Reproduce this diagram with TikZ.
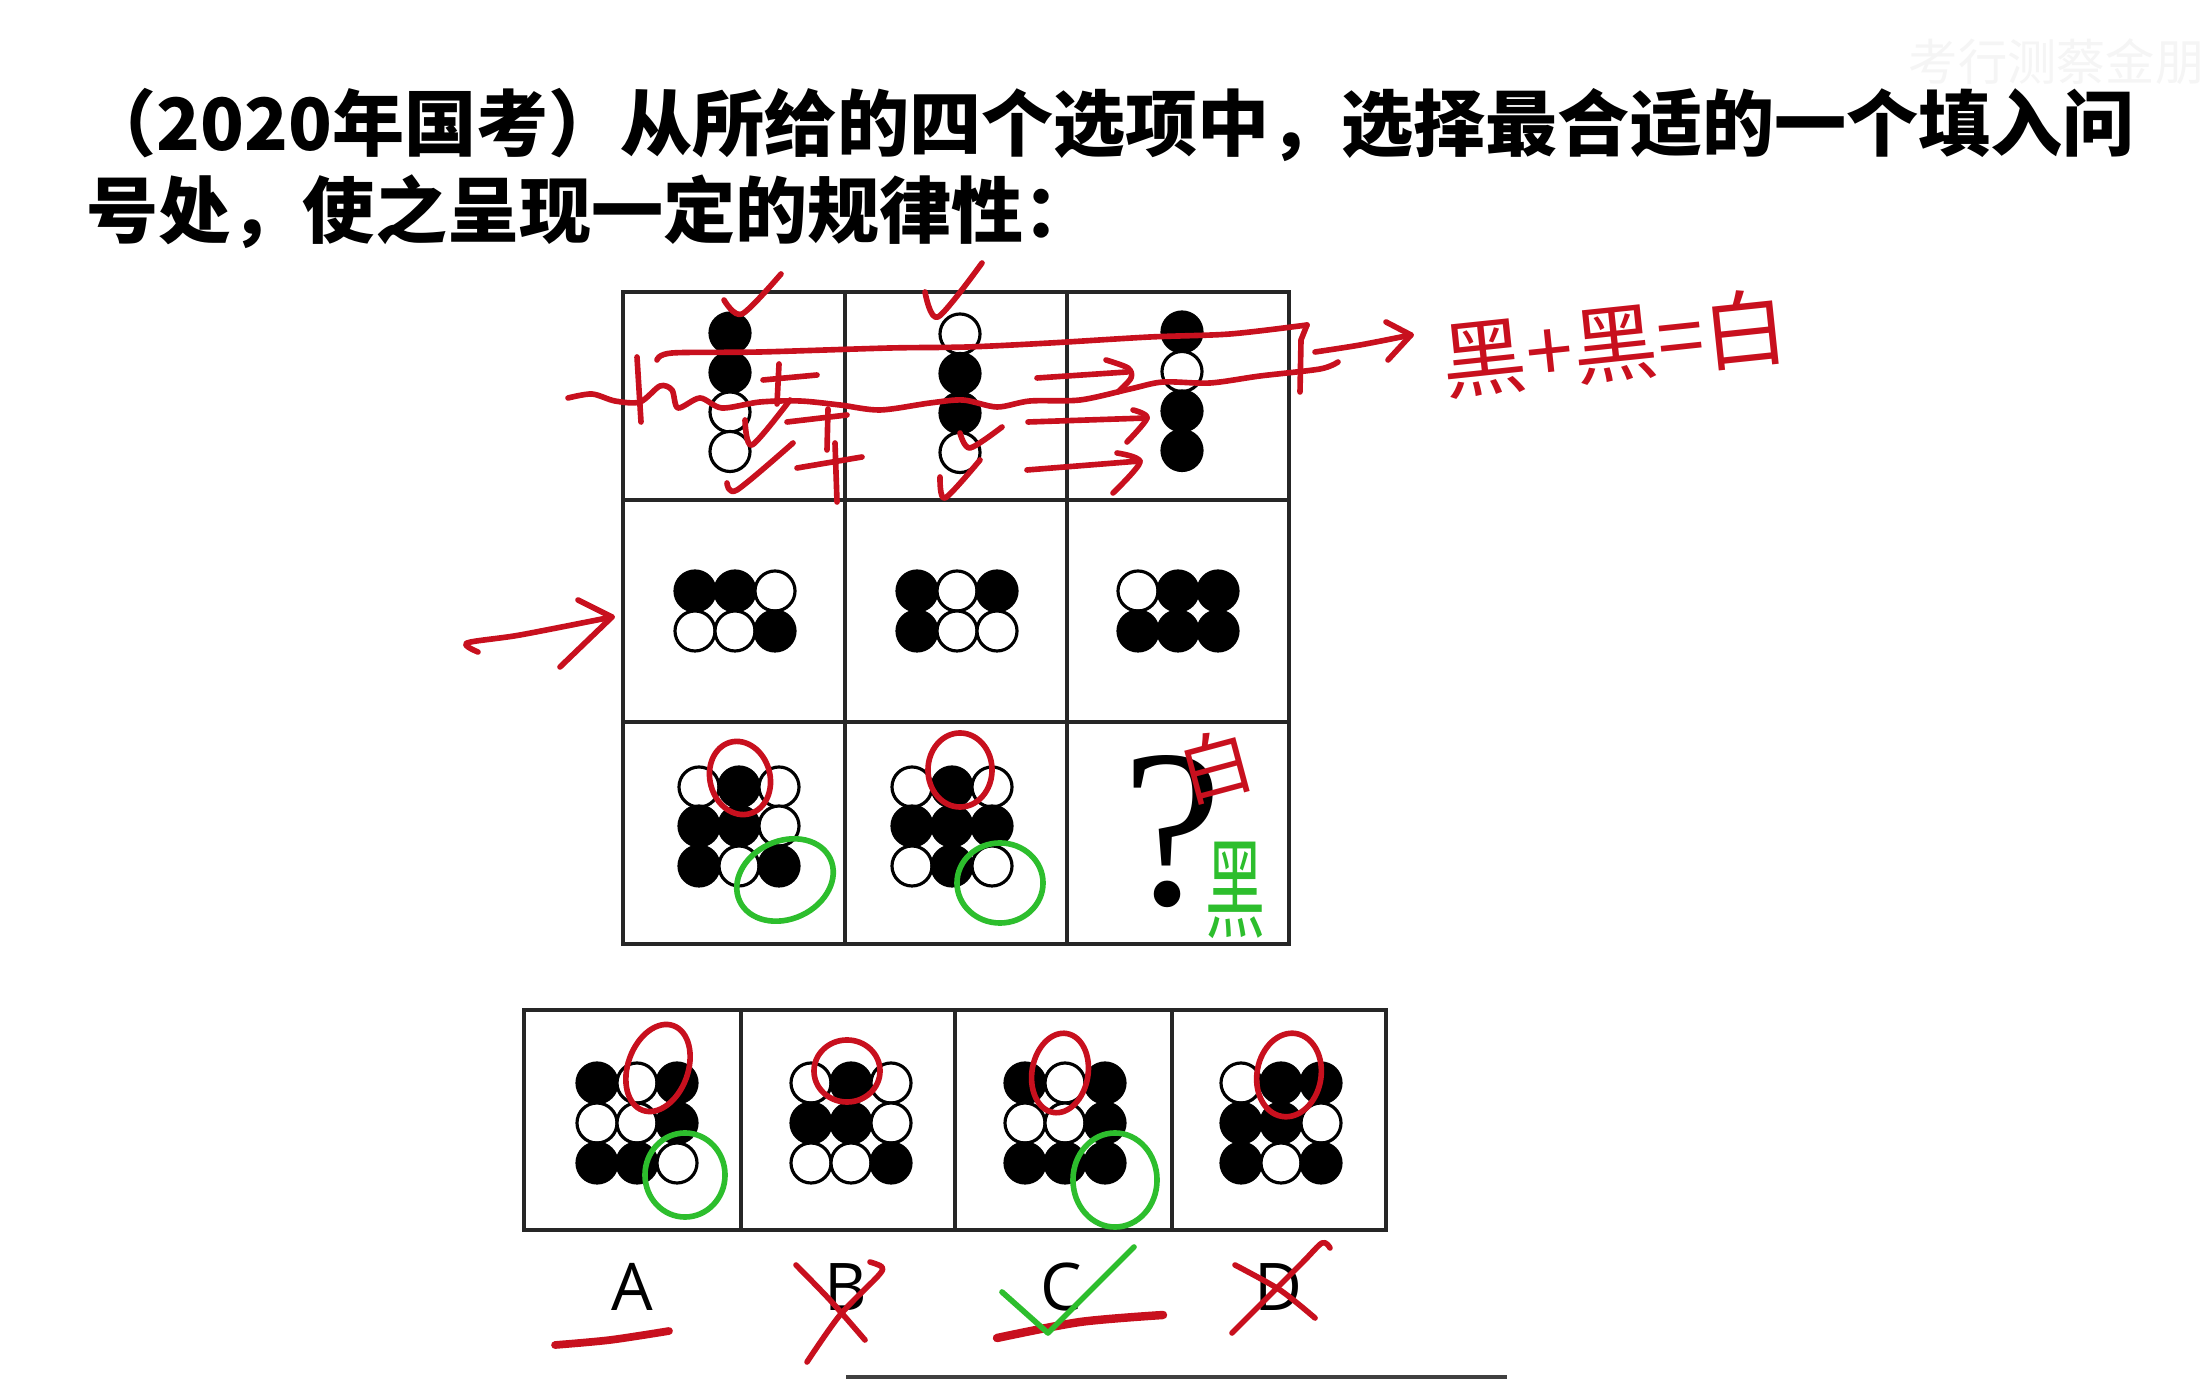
\documentclass[tikz,border=0pt]{standalone}
\usepackage{fontspec}
\newfontfamily\cjk{Noto Sans CJK SC}
\newfontfamily\labfont{Open Sans}
\newfontfamily\qfont{Liberation Serif}
\definecolor{pred}{RGB}{200,16,30}
\definecolor{pgreen}{RGB}{45,190,45}
\tikzset{
 redpen/.style={draw=pred, line width=1.6pt, line cap=round, line join=round},
 greenpen/.style={draw=pgreen, line width=1.6pt, line cap=round, line join=round},
 cb/.style={draw=black, fill=black, line width=0.9pt},
 cw/.style={draw=black, fill=white, line width=0.9pt},
 gridline/.style={draw=black!85, line width=1.1pt},
}
\newcommand{\circrow}[3]{\foreach \sty [count=\kk from 0] in {#3} {\path[\sty] ({#1+40*\kk},#2) circle[radius=0.2cm];}}
\newcommand{\circcol}[3]{\foreach \sty [count=\kk from 0] in {#3} {\path[\sty] (#1,{#2+39.5*\kk}) circle[radius=0.2cm];}}
\begin{document}
\begin{tikzpicture}[x=0.01cm,y=-0.01cm]
\fill[white] (0,0) rectangle (2212,1380);
\useasboundingbox (0,0) rectangle (2212,1380);

% title
\node[anchor=west, inner sep=0, font=\cjk\bfseries\fontsize{20.5pt}{24pt}\selectfont] (t1) at (84,125) {（2020年国考）从所给的四个选项中，选择最合适的一个填入问};
\node[anchor=west, inner sep=0, font=\cjk\bfseries\fontsize{20.5pt}{24pt}\selectfont] (t2) at (86,212) {号处，使之呈现一定的规律性：};
\node[anchor=east, inner sep=0, font=\cjk\fontsize{14pt}{16pt}\selectfont, text=black!4] (wm) at (2205,62) {考行测蔡金朋};

% grid
\draw[gridline] (623,292) rectangle (1289,944);
\draw[gridline] (845,292) -- (845,944);
\draw[gridline] (1067,292) -- (1067,944);
\draw[gridline] (623,500) -- (1289,500);
\draw[gridline] (623,722) -- (1289,722);

% row 1
\circcol{730}{333}{cb,cb,cw,cw}
\circcol{960}{334}{cw,cb,cb,cw}
\circcol{1182}{332}{cb,cw,cb,cb}

% row 2
\circrow{695}{591}{cb,cb,cw}
\circrow{695}{631}{cw,cw,cb}
\circrow{917}{591}{cb,cw,cb}
\circrow{917}{631}{cb,cw,cw}
\circrow{1138}{591}{cw,cb,cb}
\circrow{1138}{631}{cb,cb,cb}

% row 3
\circrow{699}{787}{cw,cb,cw}
\circrow{699}{826}{cb,cb,cw}
\circrow{699}{866}{cb,cw,cb}
\circrow{912}{787}{cw,cb,cw}
\circrow{912}{826}{cb,cb,cb}
\circrow{912}{866}{cw,cb,cw}
\node[inner sep=0, font=\qfont\fontsize{64pt}{64pt}\selectfont] (q) at (1172,832) {?};

% options
\draw[gridline] (524,1010) rectangle (1386,1230);
\draw[gridline] (741,1010) -- (741,1230);
\draw[gridline] (955,1010) -- (955,1230);
\draw[gridline] (1172,1010) -- (1172,1230);
\circrow{597}{1083}{cb,cw,cb}
\circrow{597}{1123}{cw,cw,cb}
\circrow{597}{1163}{cb,cb,cw}
\circrow{811}{1083}{cw,cb,cw}
\circrow{811}{1123}{cb,cb,cw}
\circrow{811}{1163}{cw,cw,cb}
\circrow{1025}{1083}{cb,cw,cb}
\circrow{1025}{1123}{cw,cw,cb}
\circrow{1025}{1163}{cb,cb,cb}
\circrow{1241}{1083}{cw,cb,cb}
\circrow{1241}{1123}{cb,cb,cw}
\circrow{1241}{1163}{cb,cw,cb}

\node[inner sep=0, font=\labfont\fontsize{18.7pt}{20pt}\selectfont] (la) at (632,1287) {A};
\node[inner sep=0, font=\labfont\fontsize{18.7pt}{20pt}\selectfont] (lb) at (846,1287) {B};
\node[inner sep=0, font=\labfont\fontsize{18.7pt}{20pt}\selectfont] (lc) at (1061,1287) {C};
\node[inner sep=0, font=\labfont\fontsize{18.7pt}{20pt}\selectfont] (ld) at (1278,1287) {D};

\draw[black!75, line width=1pt] (846,1377) -- (1507,1377);

% ---- red annotations row 1
\draw[redpen] plot[smooth] coordinates {(724,300) (742,314) (781,274)};
\draw[redpen] plot[smooth] coordinates {(925,292) (938,317) (982,263)};
\draw[redpen] plot[smooth] coordinates {(657,360) (672,353) (760,352) (890,348) (967,347) (1050,343) (1150,337) (1230,334) (1307,325)};
\draw[redpen] (1307,325) -- (1301,340) -- (1300,392);
\draw[redpen] plot[smooth] coordinates {(568,398) (592,394) (615,401) (640,402) (660,386) (672,390) (678,408) (700,398) (722,408) (760,402) (800,401) (840,405) (880,410) (930,403) (963,400) (997,407) (1030,401) (1080,400) (1130,389) (1163,382) (1210,383) (1260,376) (1320,369) (1338,362)};
\draw[redpen] (637,357) -- (641,422);
\draw[redpen] plot[smooth] coordinates {(745,420) (752,445) (790,400)};
\draw[redpen] (763,380) -- (817,375);
\draw[redpen] (779,364) -- (777,404);
\draw[redpen] (787,422) -- (847,415);
\draw[redpen] (828,409) -- (827,450);
\draw[redpen] (797,468) -- (862,457);
\draw[redpen] (835,443) -- (837,502);
\draw[redpen] plot[smooth] coordinates {(727,483) (737,490) (793,443)};
\draw[redpen] plot[smooth] coordinates {(940,477) (945,498) (980,460)};
\draw[redpen] plot[smooth] coordinates {(960,433) (970,448) (1002,427)};
\draw[redpen] (1037,378) -- (1127,372);
\draw[redpen] plot[smooth] coordinates {(1106,360) (1128,368) (1131,378) (1118,392)};
\draw[redpen] (1028,422) -- (1147,418);
\draw[redpen] plot[smooth] coordinates {(1133,410) (1147,418) (1127,442)};
\draw[redpen] (1027,470) -- (1140,461);
\draw[redpen] plot[smooth] coordinates {(1117,453) (1140,462) (1113,493)};
\draw[redpen] plot[smooth] coordinates {(1315,352) (1360,345) (1411,335)};
\draw[redpen] (1386,322) -- (1411,335) -- (1388,360);
\node[inner sep=0, font=\cjk\fontsize{24pt}{26pt}\selectfont, text=pred, rotate=6] (eq) at (1615,343) {黑+黑=白};

% row 2 arrow
\draw[redpen] plot[smooth] coordinates {(478,652) (467,643) (520,635) (612,617)};
\draw[redpen] (578,600) -- (612,617) -- (560,667);

% row 3 loops
\draw[redpen] (740,778) circle[x radius=0.30cm, y radius=0.37cm, rotate=15];
\draw[greenpen] (785,880) circle[x radius=0.50cm, y radius=0.39cm, rotate=25];
\draw[redpen] (960,770) circle[x radius=0.32cm, y radius=0.37cm];
\draw[greenpen] (1000,883) circle[x radius=0.43cm, y radius=0.40cm];
\node[inner sep=0, font=\cjk\fontsize{21pt}{22pt}\selectfont, text=pred, rotate=15] (w1) at (1216,766) {白};
\node[inner sep=0, font=\cjk\fontsize{31pt}{32pt}\selectfont, text=pgreen] (b1) at (1235,890) {\scalebox{0.55}[1]{黑}};

% option loops
\draw[redpen] (658,1068) circle[x radius=0.30cm, y radius=0.45cm, rotate=-20];
\draw[greenpen] (685,1175) circle[x radius=0.40cm, y radius=0.42cm];
\draw[redpen] (847,1071) circle[x radius=0.33cm, y radius=0.31cm];
\draw[redpen] (1060,1073) circle[x radius=0.28cm, y radius=0.40cm, rotate=-10];
\draw[greenpen] (1115,1180) circle[x radius=0.42cm, y radius=0.47cm];
\draw[redpen] (1289,1075) circle[x radius=0.32cm, y radius=0.42cm, rotate=-10];

% label marks
\draw[redpen, line width=2.2pt] plot[smooth] coordinates {(555,1345) (610,1340) (669,1331)};
\draw[redpen] plot[smooth] coordinates {(796,1265) (830,1300) (865,1340)};
\draw[redpen] plot[smooth] coordinates {(870,1262) (882,1267) (878,1276) (840,1315) (807,1362)};
\draw[redpen, line width=2.4pt] plot[smooth] coordinates {(997,1338) (1080,1322) (1163,1315)};
\draw[greenpen] (1002,1292) -- (1048,1333) -- (1134,1247);
\draw[redpen] plot[smooth] coordinates {(1235,1265) (1280,1290) (1315,1318)};
\draw[redpen] plot[smooth] coordinates {(1330,1248) (1322,1243) (1300,1265) (1232,1333)};
\end{tikzpicture}
\end{document}
